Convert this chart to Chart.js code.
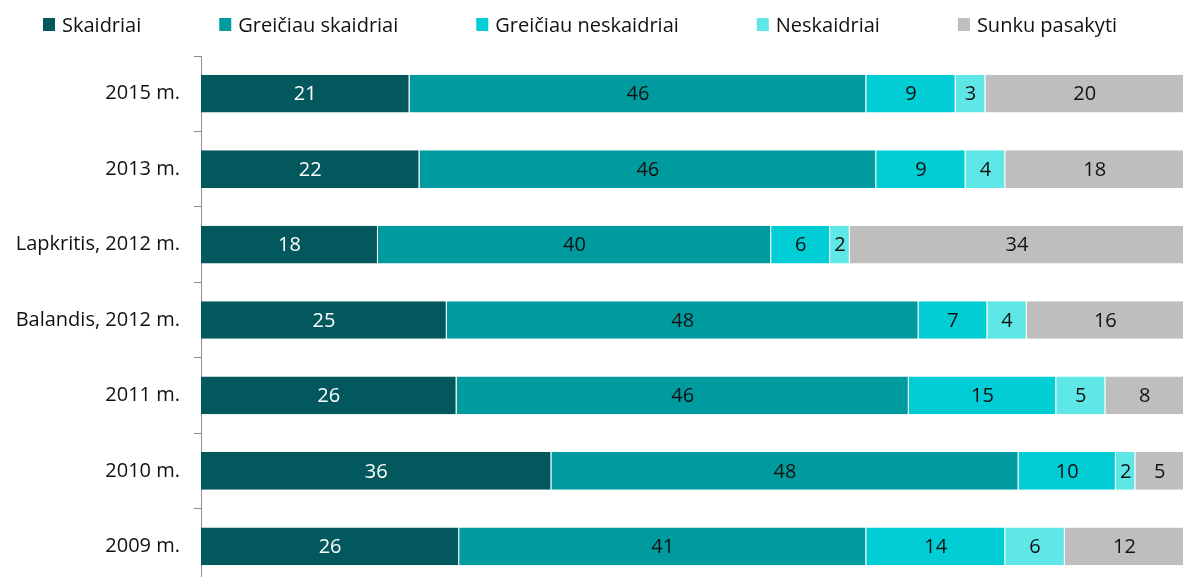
<!DOCTYPE html>
<html>
<head>
<meta charset="utf-8">
<script src="https://cdn.jsdelivr.net/npm/chart.js@4/dist/chart.umd.min.js"></script>
<style>
  html, body { margin: 0; padding: 0; background: #fff; overflow: hidden; }
</style>
</head>
<body>
<canvas id="chart" width="1187" height="610"></canvas>
<script>
// Chart data
const categories = ['2015 m.', '2013 m.', 'Lapkritis, 2012 m.', 'Balandis, 2012 m.', '2011 m.', '2010 m.', '2009 m.'];
const seriesNames = ['Skaidriai', 'Greičiau skaidriai', 'Greičiau neskaidriai', 'Neskaidriai', 'Sunku pasakyti'];
const skaidriai = [21, 22, 18, 25, 26, 36, 26];
const greiciauSkaidriai = [46, 46, 40, 48, 46, 48, 41];
const greiciauNeskaidriai = [9, 9, 6, 7, 15, 10, 14];
const neskaidriai = [3, 4, 2, 4, 5, 2, 6];
const sunkuPasakyti = [20, 18, 34, 16, 8, 5, 12];

const seriesValues = [skaidriai, greiciauSkaidriai, greiciauNeskaidriai, neskaidriai, sunkuPasakyti];
const colors = ['#02585c', '#009b9e', '#00ced4', '#5fe6e6', '#bebebe'];
const labelColors = ['#ffffff', '#111111', '#111111', '#111111', '#111111'];
const FONT = '"Open Sans", Lato, sans-serif';

// each row is drawn as a 100% bar
const rowTotals = categories.map((_, i) => seriesValues.reduce((s, arr) => s + arr[i], 0));

const datasets = seriesValues.map((vals, k) => ({
    label: seriesNames[k],
    data: vals.map((v, i) => v / rowTotals[i] * 100),
    raw: vals,
    backgroundColor: colors[k],
    borderColor: 'rgba(255,255,255,0.7)',
    borderWidth: { right: 1 },
    borderSkipped: false,
    barPercentage: 0.5,
    categoryPercentage: 1
}));

// value labels in the middle of each segment
const valueLabels = {
    id: 'valueLabels',
    afterDatasetsDraw(chart) {
        const ctx = chart.ctx;
        ctx.save();
        ctx.font = '20px ' + FONT;
        ctx.textAlign = 'center';
        ctx.textBaseline = 'middle';
        chart.data.datasets.forEach((ds, k) => {
            chart.getDatasetMeta(k).data.forEach((bar, i) => {
                const cx = (bar.x + bar.base) / 2;
                ctx.fillStyle = labelColors[k];
                ctx.fillText(String(ds.raw[i]), cx, bar.y + 1);
            });
        });
        ctx.restore();
    }
};

// legend drawn across the top
const topLegend = {
    id: 'topLegend',
    afterDraw(chart) {
        const ctx = chart.ctx;
        ctx.save();
        ctx.font = '20px ' + FONT;
        ctx.textBaseline = 'alphabetic';
        let x = 43;
        seriesNames.forEach((name, k) => {
            ctx.fillStyle = colors[k];
            ctx.fillRect(x, 18, 12, 13);
            ctx.fillStyle = '#111';
            ctx.fillText(name, x + 19, 32);
            x += 19 + ctx.measureText(name).width + 78;
        });
        ctx.restore();
    }
};

new Chart(document.getElementById('chart').getContext('2d'), {
    type: 'bar',
    data: { labels: categories, datasets: datasets },
    options: {
        indexAxis: 'y',
        responsive: false,
        animation: false,
        layout: { padding: { top: 56, right: 3, bottom: 0, left: 0 } },
        scales: {
            x: {
                stacked: true,
                min: 0,
                max: 100,
                display: false
            },
            y: {
                stacked: true,
                afterFit: s => { s.width = 201; },
                border: { display: true, color: '#8c8c8c', width: 1 },
                grid: {
                    display: true,
                    drawOnChartArea: false,
                    offset: true,
                    tickLength: 7,
                    color: '#8c8c8c'
                },
                ticks: {
                    color: '#111',
                    padding: 14,
                    font: { family: FONT, size: 20 }
                }
            }
        },
        plugins: {
            legend: { display: false },
            tooltip: { enabled: false }
        }
    },
    plugins: [valueLabels, topLegend]
});
</script>
</body>
</html>
